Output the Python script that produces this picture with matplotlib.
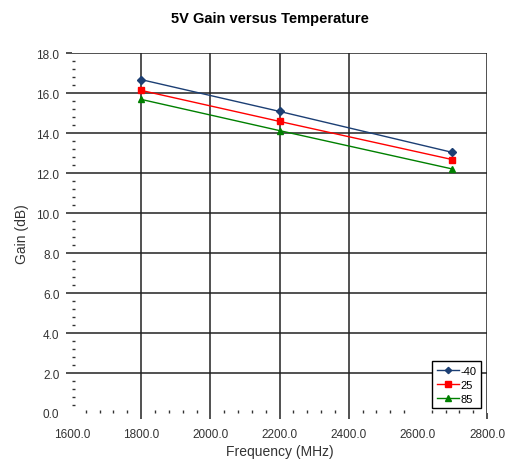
#!/usr/bin/env python3
import matplotlib
matplotlib.use("Agg")
import matplotlib.pyplot as plt
from matplotlib.ticker import MultipleLocator

plt.rcParams["font.family"] = ["Liberation Sans", "DejaVu Sans"]

# Gain vs frequency at three temperatures
freq_mhz = [1800, 2200, 2700]
gain_m40 = [16.67, 15.08, 13.03]
gain_25 = [16.13, 14.58, 12.67]
gain_85 = [15.68, 14.12, 12.20]
series_labels = ["-40", "25", "85"]

x_ticks = [1600, 1800, 2000, 2200, 2400, 2600, 2800]
y_ticks = [0, 2, 4, 6, 8, 10, 12, 14, 16, 18]

fig = plt.figure(figsize=(5.07, 4.60), dpi=100)
ax = fig.add_axes([0.142, 0.100, 0.8186, 0.7826])

ax.plot(freq_mhz, gain_m40, color="#1c3f74", marker="D", markersize=4,
        linewidth=1.0, label=series_labels[0])
ax.plot(freq_mhz, gain_25, color="#ff0000", marker="s", markersize=5,
        linewidth=1.0, label=series_labels[1])
ax.plot(freq_mhz, gain_85, color="#008000", marker="^", markersize=5,
        linewidth=1.0, label=series_labels[2])

ax.set_xlim(1600, 2800)
ax.set_ylim(0, 18)
ax.set_xticks(x_ticks)
ax.set_yticks(y_ticks)
ax.set_xticklabels([f"{v:.1f}" for v in x_ticks])
ax.set_yticklabels([f"{v:.1f}" for v in y_ticks])
ax.xaxis.set_minor_locator(MultipleLocator(40))
ax.yaxis.set_minor_locator(MultipleLocator(0.4))

for s in ax.spines.values():
    s.set_visible(False)

ax.grid(True, which="major", color="#222222", linewidth=1.1)
ax.set_axisbelow(True)
# no gridline at 2600 in the original, and none at the left/bottom edges
xgl = ax.get_xgridlines()
xgl[0].set_visible(False)
xgl[5].set_visible(False)
ax.get_ygridlines()[0].set_visible(False)

ax.tick_params(axis="both", which="major", length=4, width=1.1,
               color="#222222", labelsize=8.5, labelcolor="#333333")
ax.tick_params(axis="x", which="major", pad=7)
ax.tick_params(axis="y", which="major", pad=5)
ax.tick_params(axis="both", which="minor", direction="in", length=2,
               width=1.0, color="#333333")
xmaj = ax.xaxis.get_major_ticks()
xmaj[0].tick1line.set_visible(False)
xmaj[5].tick1line.set_visible(False)
ax.yaxis.get_major_ticks()[0].tick1line.set_visible(False)

ax.set_xlabel("Frequency (MHz)", fontsize=10, color="#333333", labelpad=3)
ax.set_ylabel("Gain (dB)", fontsize=10, color="#333333", labelpad=5)
fig.text(0.533, 0.958, "5V Gain versus Temperature", ha="center",
         va="center", fontsize=10.5, fontweight="bold")

leg = ax.legend(loc="lower right", bbox_to_anchor=(0.986, 0.014),
                fontsize=8, handlelength=2.0, handletextpad=0.15,
                borderpad=0.4, labelspacing=0.35, frameon=True,
                fancybox=False, borderaxespad=0, markerscale=0.8)
leg.get_frame().set_edgecolor("black")
leg.get_frame().set_linewidth(1.0)
leg.get_frame().set_alpha(1.0)

fig.savefig("out.png", dpi=100)
